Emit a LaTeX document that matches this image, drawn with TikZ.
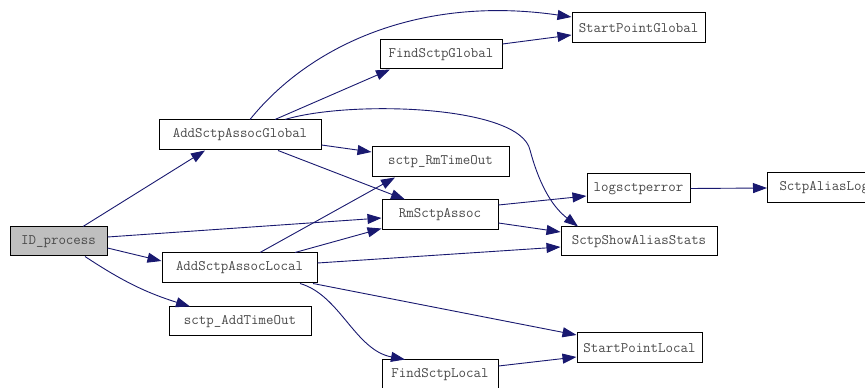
\documentclass[tikz,border=0pt]{standalone}
\usetikzlibrary{arrows.meta}
\definecolor{edgeblue}{HTML}{191970}
\definecolor{txtgray}{HTML}{4A4A4A}
\definecolor{boxgray}{HTML}{BFBFBF}
\tikzset{
  fn/.style={draw=black, line width=1pt, fill=white, inner sep=0pt, rectangle,
    font=\ttfamily\fontsize{14.5}{15}\selectfont, text=txtgray},
  call/.style={draw=edgeblue, line width=0.9pt, -{Triangle[length=14pt,width=10pt,fill=edgeblue]}},
}
\begin{document}
\begin{tikzpicture}[x=1pt,y=1pt]
\useasboundingbox (0,0) rectangle (865,388);
\clip (0,0) rectangle (865,388);
\fill[white] (0,0) rectangle (865,388);
% nodes
\node[fn, fill=boxgray, minimum width=97pt, minimum height=29pt] (idp) at (58.5,146.5) {ID\_process};
\node[fn, minimum width=162pt, minimum height=30pt] (asg) at (240,253) {AddSctpAssocGlobal};
\node[fn, minimum width=155pt, minimum height=30pt] (asl) at (239.5,120) {AddSctpAssocLocal};
\node[fn, minimum width=142pt, minimum height=29pt] (sat) at (240,66.5) {sctp\_AddTimeOut};
\node[fn, minimum width=122pt, minimum height=29pt] (fsg) at (441,333.5) {FindSctpGlobal};
\node[fn, minimum width=133pt, minimum height=30pt] (spg) at (638.5,360) {StartPointGlobal};
\node[fn, minimum width=137pt, minimum height=30pt] (srt) at (440.5,226) {sctp\_RmTimeOut};
\node[fn, minimum width=116pt, minimum height=30pt] (rsa) at (440,173) {RmSctpAssoc};
\node[fn, minimum width=103pt, minimum height=29pt] (lse) at (638.5,199.5) {logsctperror};
\node[fn, minimum width=156pt, minimum height=29pt] (ssa) at (639,146.5) {SctpShowAliasStats};
\node[fn, minimum width=125pt, minimum height=30pt] (spl) at (639.5,40) {StartPointLocal};
\node[fn, minimum width=116pt, minimum height=30pt] (fsl) at (440,13) {FindSctpLocal};
\node[fn, anchor=west, minimum width=120pt, minimum height=30pt, text width=108pt, align=left, inner xsep=12pt] (sal) at (767,200) {SctpAliasLog};
% edges
\draw[call] ([xshift=24.5pt]idp.north) -- ([xshift=-35pt]asg.south);
\draw[call] ([yshift=4.5pt]idp.east) -- ([yshift=-3pt]rsa.west);
\draw[call] ([yshift=-6.5pt]idp.east) -- ([yshift=7pt]asl.west);
\draw[call] ([xshift=26.5pt]idp.south) to[bend right=8] ([xshift=-50pt]sat.north);
\draw[call] ([xshift=10pt]asg.north) .. controls (310,343) and (420,393) .. ([yshift=11pt]spg.west);
\draw[call] ([xshift=35pt]asg.north) -- ([xshift=-51pt]fsg.south);
\draw[call] ([xshift=45pt]asg.north) .. controls (350,288) and (520,283) .. (530,238) .. controls (538,208) and (550,183) .. ([xshift=-61pt]ssa.north);
\draw[call] ([yshift=-10pt]asg.east) -- ([yshift=10pt]srt.west);
\draw[call] ([xshift=38pt]asg.south) -- ([xshift=-35pt]rsa.north);
\draw[call] ([yshift=10.5pt]fsg.east) -- ([yshift=-7pt]spg.west);
\draw[call] ([xshift=20.5pt]asl.north) -- ([xshift=-45.5pt]srt.south);
\draw[call] ([xshift=55.5pt]asl.north) -- ([yshift=2pt]rsa.south west);
\draw[call] ([yshift=5pt]asl.east) -- ([yshift=-5.5pt]ssa.west);
\draw[call] ([xshift=73.5pt]asl.south) -- ([yshift=13pt]spl.west);
\draw[call] ([xshift=60.5pt]asl.south) .. controls (340,93) and (355,38) .. ([xshift=-35pt]fsl.north);
\draw[call] ([yshift=10pt]rsa.east) -- ([yshift=-7.5pt]lse.west);
\draw[call] ([yshift=-8pt]rsa.east) -- ([yshift=9.5pt]ssa.west);
\draw[call] (lse.east) -- (sal.west);
\draw[call] ([yshift=9pt]fsl.east) -- ([yshift=-9pt]spl.west);
\end{tikzpicture}
\end{document}
